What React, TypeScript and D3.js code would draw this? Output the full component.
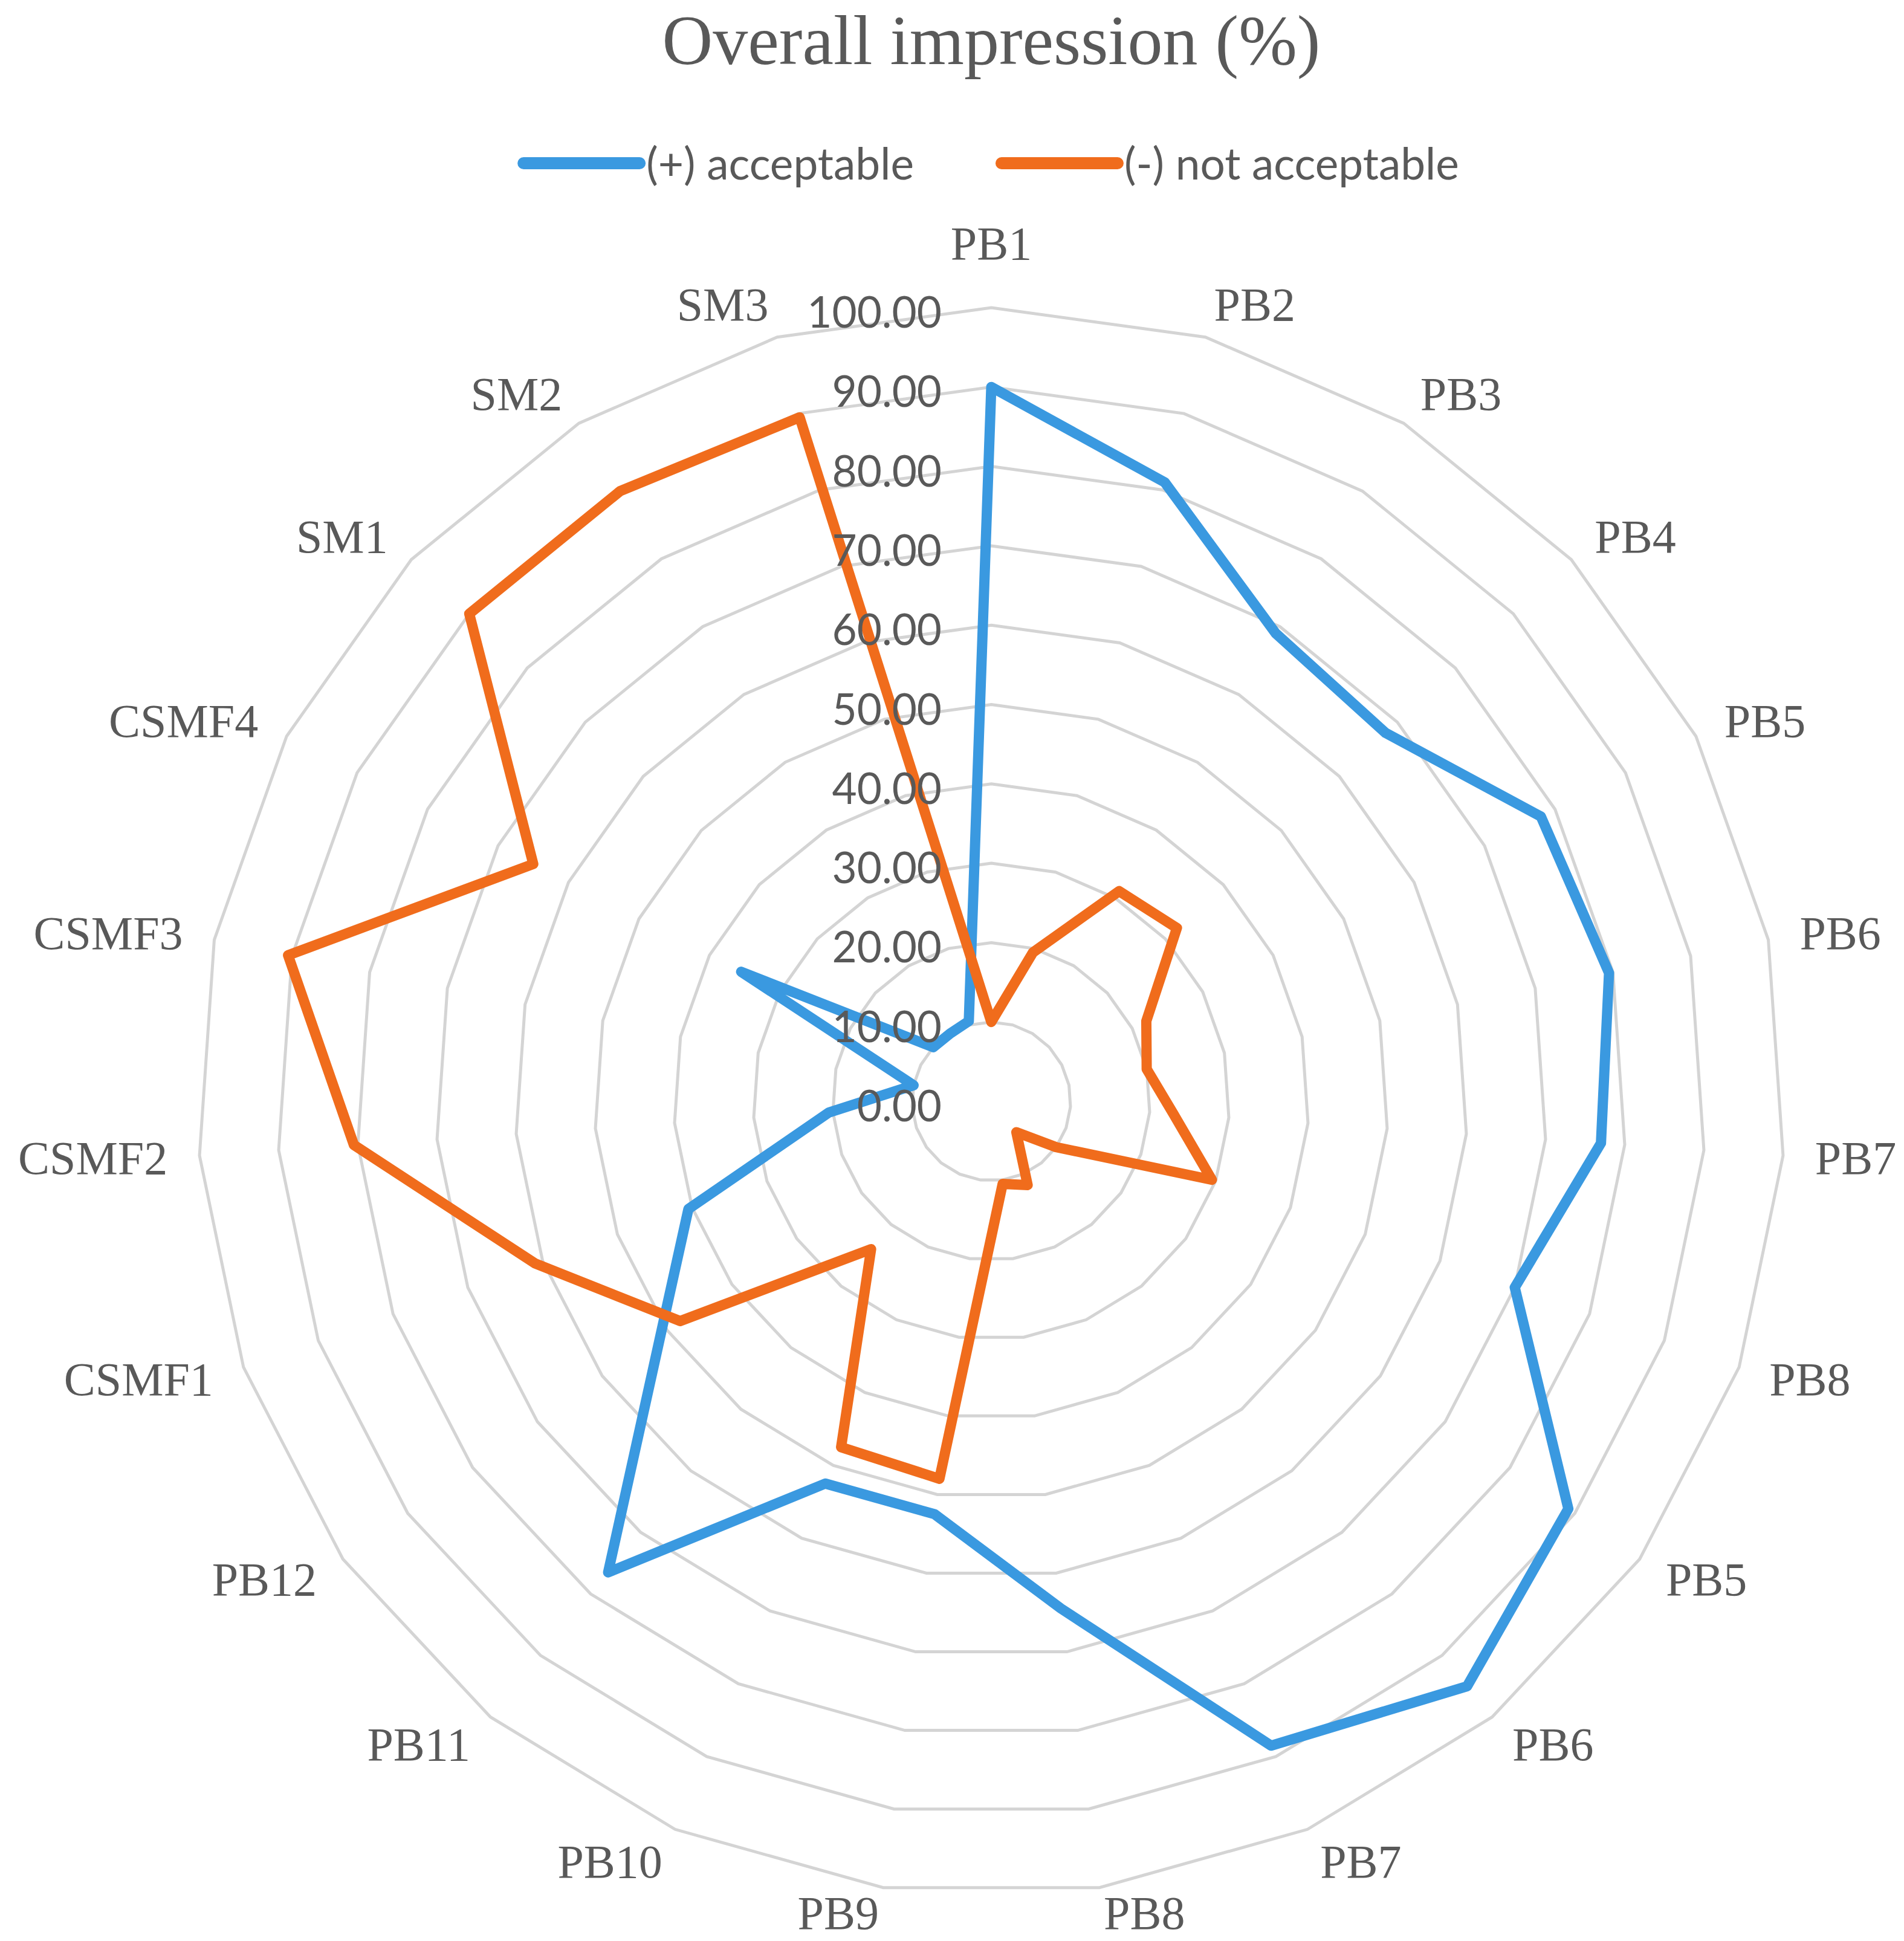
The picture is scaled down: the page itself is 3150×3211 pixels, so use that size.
import { useEffect, useRef } from 'react';
import * as d3 from 'd3';

// Chart data
const categories = [
  'PB1', 'PB2', 'PB3', 'PB4', 'PB5', 'PB6', 'PB7', 'PB8',
  'PB5', 'PB6', 'PB7', 'PB8', 'PB9', 'PB10', 'PB11', 'PB12',
  'CSMF1', 'CSMF2', 'CSMF3', 'CSMF4', 'SM1', 'SM2', 'SM3',
];
const acceptable = [90, 81, 69, 68, 78, 79.5, 77, 70, 89, 95, 88.5, 64.5, 52.5, 52.5, 76.5, 51, 40.5, 20.5, 10, 35.5, 10, 10, 10.5];
const notAcceptable = [10, 19.5, 31, 32, 22, 20, 23, 29.5, 10, 5, 11.5, 10.5, 48, 47.5, 24, 48, 61, 80.5, 90.5, 65, 90, 90, 89.5];
const ticks = [0, 10, 20, 30, 40, 50, 60, 70, 80, 90, 100];
const seriesNames = ['(+) acceptable', '(-) not acceptable'];
const seriesColors = ['#3a99e0', '#f06c1c'];
const title = 'Overall impression (%)';

function App() {
  const ref = useRef<SVGSVGElement>(null);

  const width = 3150;
  const height = 3211;
  const cx = 1640;
  const cy = 1822;
  const R = 1313;
  const textColor = '#595959';

  useEffect(() => {
    const svg = d3.select(ref.current);
    svg.selectAll('*').remove();

    const n = categories.length;
    const r = d3.scaleLinear().domain([0, 100]).range([0, R]);
    const angle = (i: number) => (i * 2 * Math.PI) / n;

    const g = svg.append('g').attr('transform', `translate(${cx},${cy})`);

    // grid rings (polygons, no spokes)
    const ring = d3.lineRadial<number>()
      .angle((_, i) => angle(i))
      .radius((d) => r(d))
      .curve(d3.curveLinearClosed);

    g.selectAll('path.ring')
      .data(ticks.filter((t) => t > 0))
      .join('path')
      .attr('class', 'ring')
      .attr('d', (t) => ring(categories.map(() => t)))
      .attr('fill', 'none')
      .attr('stroke', '#d4d4d4')
      .attr('stroke-width', 5);

    // series, later one on top
    const line = d3.lineRadial<number>()
      .angle((_, i) => angle(i))
      .radius((d) => r(d))
      .curve(d3.curveLinearClosed);

    [acceptable, notAcceptable].forEach((vals, k) => {
      g.append('path')
        .attr('d', line(vals))
        .attr('fill', 'none')
        .attr('stroke', seriesColors[k])
        .attr('stroke-width', 17)
        .attr('stroke-linejoin', 'round');
    });

    // tick labels
    g.selectAll('text.tick')
      .data(ticks)
      .join('text')
      .attr('class', 'tick')
      .attr('x', -82)
      .attr('y', (t) => -r(t) + 33)
      .attr('text-anchor', 'end')
      .attr('font-family', 'Lato')
      .attr('font-size', 71)
      .attr('fill', textColor)
      .text((t) => t.toFixed(2));

    // category labels: anchored at start/end like excel
    const A = 1366;
    const B = 1370;
    g.selectAll('text.cat')
      .data(categories)
      .join('text')
      .attr('class', 'cat')
      .attr('font-family', '"Liberation Serif", "Times New Roman", serif')
      .attr('font-size', 78)
      .attr('fill', textColor)
      .each(function (_, i) {
        const a = angle(i);
        const s = Math.sin(a);
        const c = Math.cos(a);
        const anchor = s > 0.01 ? 'start' : s < -0.01 ? 'end' : 'middle';
        let yc = -B * c;
        if (anchor === 'middle' && c > 0) yc -= 50;
        const y = Math.min(yc + 27, height - cy - 20);
        d3.select(this)
          .attr('text-anchor', anchor)
          .attr('x', A * s)
          .attr('y', y);
      })
      .text((d) => d);

    // title
    svg.append('text')
      .attr('x', cx)
      .attr('y', 106)
      .attr('text-anchor', 'middle')
      .attr('font-family', '"Liberation Serif", "Times New Roman", serif')
      .attr('font-size', 116)
      .attr('fill', textColor)
      .text(title);

    // legend
    const lineLen = 192;
    const textGap = 11;
    const itemGap = 145;
    const legend = svg.append('g');
    const items = seriesNames.map((name, k) => {
      const item = legend.append('g');
      item.append('line')
        .attr('x1', 0).attr('x2', lineLen)
        .attr('y1', 270).attr('y2', 270)
        .attr('stroke', seriesColors[k])
        .attr('stroke-width', 20)
        .attr('stroke-linecap', 'round');
      const t = item.append('text')
        .attr('x', lineLen + textGap)
        .attr('y', 297)
        .attr('font-family', 'Lato')
        .attr('font-size', 73)
        .attr('fill', textColor)
        .text(name);
      const tw = (t.node() as SVGTextElement).getComputedTextLength();
      return { item, w: lineLen + textGap + tw };
    });
    const total = d3.sum(items, (d) => d.w) + itemGap * (items.length - 1);
    let x0 = cx - total / 2;
    items.forEach(({ item, w }) => {
      item.attr('transform', `translate(${x0},0)`);
      x0 += w + itemGap;
    });
  }, []);

  return (
    <svg
      ref={ref}
      width={width}
      height={height}
      style={{ position: 'absolute', left: 0, top: 0, background: '#fff' }}
    />
  );
}

export default App;
